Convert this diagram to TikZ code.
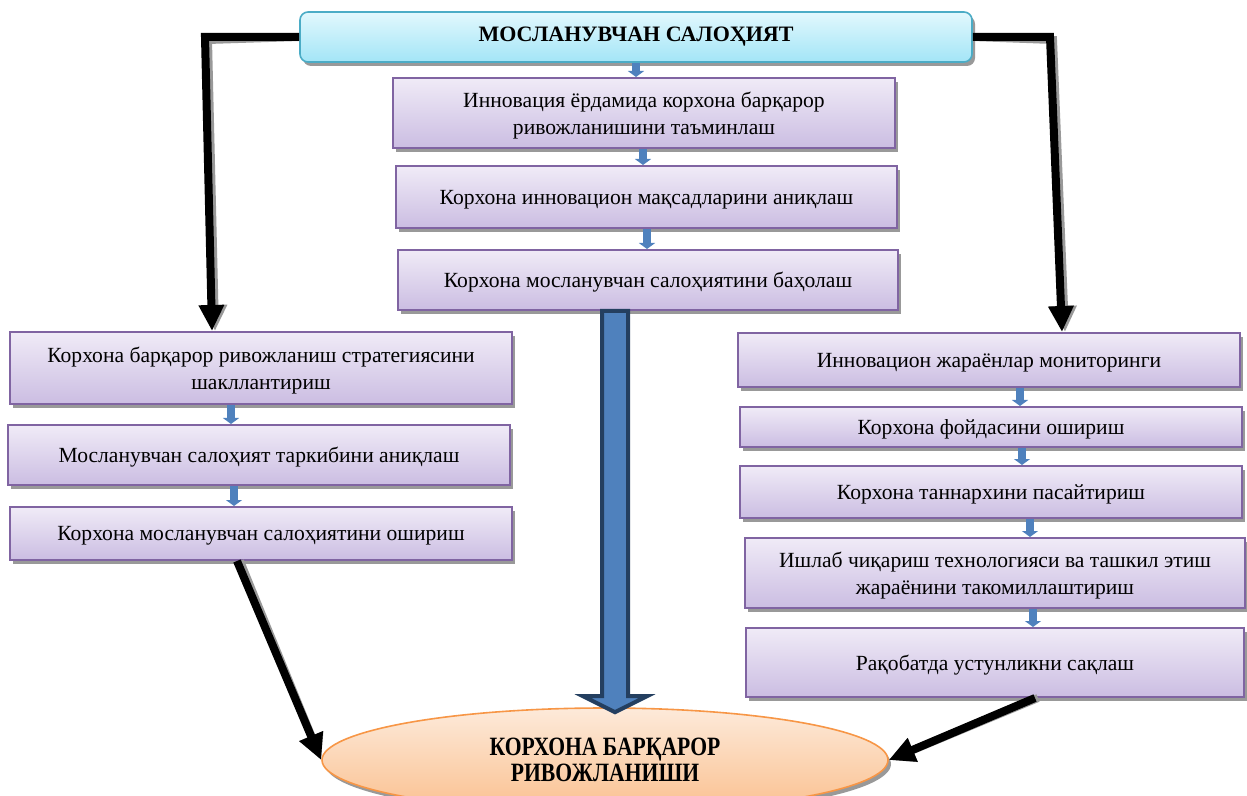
\documentclass[tikz,border=0pt]{standalone}
\usepackage{fontspec}
\setmainfont{Liberation Serif}
\newfontfamily\ovalfont[FakeStretch=0.82]{Liberation Serif}
\usetikzlibrary{calc,shadows,arrows.meta,shapes.geometric}

\definecolor{boxtop}{HTML}{F0EBF7}
\definecolor{boxbot}{HTML}{CBBDE2}
\definecolor{boxline}{HTML}{8064A2}
\definecolor{headtop}{HTML}{E2F8FD}
\definecolor{headbot}{HTML}{A3E5F7}
\definecolor{headline}{HTML}{4BACC6}
\definecolor{ovaltop}{HTML}{FDEADA}
\definecolor{ovalbot}{HTML}{FAC08F}
\definecolor{ovalline}{HTML}{F79646}
\definecolor{flowblue}{HTML}{4F81BD}
\definecolor{flowdark}{HTML}{243F60}

\tikzset{
  boxshadow/.style={drop shadow={shadow xshift=1.5pt, shadow yshift=-2pt, fill=black!40, opacity=1}},
  stepbox/.style={draw=boxline, line width=1pt, top color=boxtop, bottom color=boxbot,
    align=center, inner sep=0pt, text depth=0pt, font=\fontsize{10.8}{13.5}\selectfont, boxshadow},
  headbox/.style={draw=headline, line width=0.8pt, rounded corners=4pt, top color=headtop,
    bottom color=headbot, align=center, inner sep=0pt, font=\bfseries\fontsize{11}{13}\selectfont, boxshadow},
  goalbox/.style={ellipse, draw=ovalline, line width=0.8pt, top color=ovaltop, bottom color=ovalbot,
    align=center, inner sep=0pt, font=\ovalfont\bfseries\fontsize{13.2}{12.8}\selectfont, boxshadow},
  smallarrow/.style={draw=flowblue, line width=4pt, -{Triangle[width=8pt,length=3pt]}},
  arrowink/.style={draw=black, line width=4pt, line join=miter, -{Triangle[width=12pt,length=13pt]}},
  arrowshade/.style={arrowink, draw=black!40, xshift=1.5pt, yshift=-1.5pt},
  bigarrow/.style={draw=flowdark, line width=2pt, fill=flowblue, line join=miter},
}

\begin{document}
\begin{tikzpicture}[x=0.5pt, y=-0.5pt]
  \useasboundingbox (0,0) rectangle (1247,796);

  %%%%% BOXES %%%%%
  \node[headbox, minimum width=336pt, minimum height=25pt] (top) at (636,37) {МОСЛАНУВЧАН САЛОҲИЯТ};

  \node[stepbox, minimum width=251pt, minimum height=35pt] (c1) at (644,113) {Инновация ёрдамида корхона барқарор\\ривожланишини таъминлаш};
  \node[stepbox, minimum width=250.5pt, minimum height=31pt] (c2) at (646.5,197) {Корхона инновацион мақсадларини аниқлаш};
  \node[stepbox, minimum width=250pt, minimum height=30pt] (c3) at (648,280) {Корхона мосланувчан салоҳиятини баҳолаш};

  \node[stepbox, minimum width=251pt, minimum height=36pt] (l1) at (261,368) {Корхона барқарор ривожланиш стратегиясини\\шакллантириш};
  \node[stepbox, minimum width=251pt, minimum height=30pt] (l2) at (259,455) {Мосланувчан салоҳият таркибини аниқлаш};
  \node[stepbox, minimum width=251pt, minimum height=26.5pt] (l3) at (261,533.5) {Корхона мосланувчан салоҳиятини ошириш};

  \node[stepbox, minimum width=251pt, minimum height=27pt] (r1) at (989,360) {Инновацион жараёнлар мониторинги};
  \node[stepbox, minimum width=251pt, minimum height=20pt] (r2) at (991,427) {Корхона фойдасини ошириш};
  \node[stepbox, minimum width=251pt, minimum height=26pt] (r3) at (991,492) {Корхона таннархини пасайтириш};
  \node[stepbox, minimum width=250pt, minimum height=35pt] (r4) at (995,573) {Ишлаб чиқариш технологияси ва ташкил этиш\\жараёнини такомиллаштириш};
  \node[stepbox, minimum width=249pt, minimum height=34.5pt] (r5) at (995,662.5) {Рақобатда устунликни сақлаш};

  \node[goalbox, minimum width=283pt, minimum height=52pt] (oval) at (605,760) {КОРХОНА БАРҚАРОР\\РИВОЖЛАНИШИ};

  %%%%% SMALL ARROWS %%%%%
  \foreach \a/\b/\x in {top/c1/636, c1/c2/643, c2/c3/647, l1/l2/231, l2/l3/234,
                        r1/r2/1020, r2/r3/1022, r3/r4/1030, r4/r5/1033}
    \draw[smallarrow] (\a.south -| \x,0) -- (\b.north -| \x,0);

  %%%%% BIG ARROW %%%%%
  \coordinate (bigtop) at (c3.south -| 615,0);
  \coordinate (bigtip) at ($(oval.north -| 615,0)+(0,5)$);
  \draw[bigarrow] ($(bigtop)+(-13,0)$) -- ($(bigtip)+(-13,-16)$) -- ($(bigtip)+(-32,-16)$)
    -- (bigtip) -- ($(bigtip)+(32,-16)$) -- ($(bigtip)+(13,-16)$) -- ($(bigtop)+(13,0)$) -- cycle;

  %%%%% BLACK ARROWS %%%%%
  \foreach \s in {arrowshade, arrowink} {
    \draw[\s] (top.west) -- (205,37) -- (l1.north -| 212,0);
    \draw[\s] (top.east) -- (1050,37) -- (r1.north -| 1062,0);
    \draw[\s] (l3.south -| 237,0) -- (oval.west);
    \draw[\s] (r5.south -| 1035,0) -- (oval.east);
  }
\end{tikzpicture}
\end{document}
